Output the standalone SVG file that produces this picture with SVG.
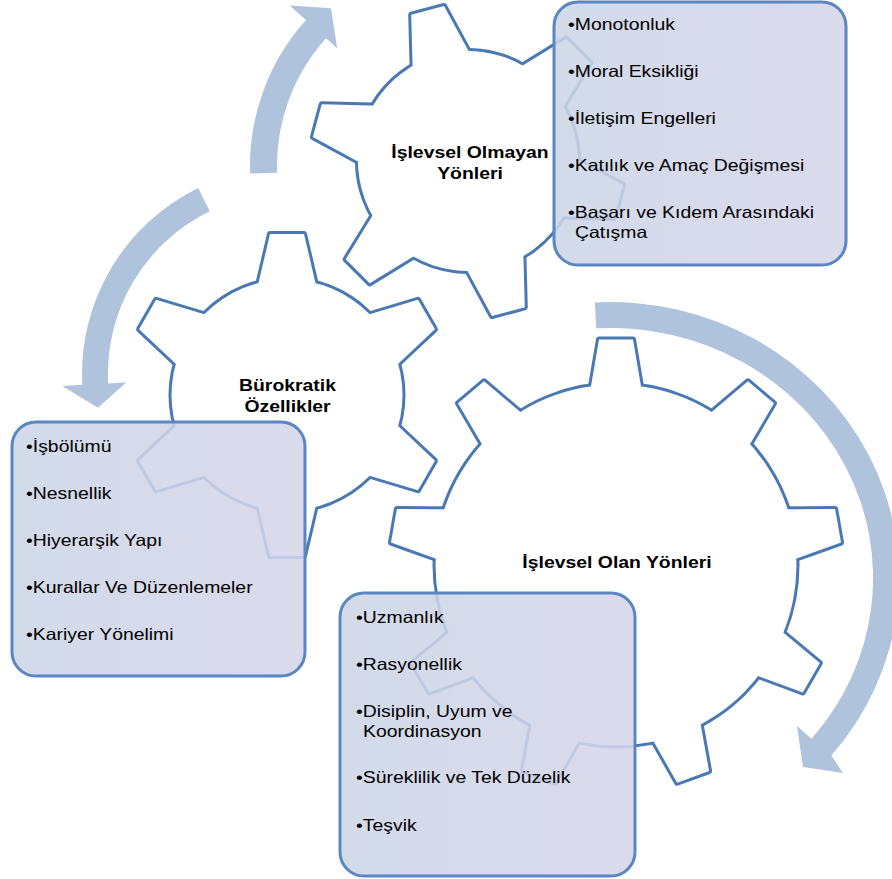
<svg xmlns="http://www.w3.org/2000/svg" width="892" height="879" viewBox="0 0 892 879">
<style>
.gs{fill:#fff;stroke:#4a78b3;stroke-width:6;stroke-linejoin:round}
.gf{fill:#fff;stroke:none}
.lbl{font-family:"Liberation Sans",Arial,sans-serif;font-size:16.3px;font-weight:bold;fill:#000;text-anchor:middle}
.bt{font-family:"Liberation Sans",Arial,sans-serif;font-size:16.3px;fill:#000}
.box{fill:url(#bf);fill-opacity:0.87;stroke:#5a86c2;stroke-width:3}
.arr{fill:#b0c3dd;stroke:none}
</style>
<defs>
<linearGradient id="bf" x1="0" y1="0" x2="1" y2="0">
<stop offset="0" stop-color="#ccd5e6"/>
<stop offset="1" stop-color="#d5d5e9"/>
</linearGradient>
<g id="gear1">
<circle r="110"/>
<polygon id="t1" points="-32.8,-90 -17,-156 17,-156 32.8,-90"/>
<use href="#t1" transform="rotate(60)"/>
<use href="#t1" transform="rotate(120)"/>
<use href="#t1" transform="rotate(180)"/>
<use href="#t1" transform="rotate(240)"/>
<use href="#t1" transform="rotate(300)"/>
</g>
<g id="gear2">
<circle r="115.5"/>
<polygon id="t2" points="-32.5,-95 -17,-161 17,-161 32.5,-95"/>
<use href="#t2" transform="rotate(60)"/>
<use href="#t2" transform="rotate(120)"/>
<use href="#t2" transform="rotate(180)"/>
<use href="#t2" transform="rotate(240)"/>
<use href="#t2" transform="rotate(300)"/>
</g>
<g id="gear3">
<circle r="180.5"/>
<polygon id="t3" points="-28.2,-160 -17,-225.5 17,-225.5 28.2,-160"/>
<use href="#t3" transform="rotate(40)"/>
<use href="#t3" transform="rotate(80)"/>
<use href="#t3" transform="rotate(120)"/>
<use href="#t3" transform="rotate(160)"/>
<use href="#t3" transform="rotate(200)"/>
<use href="#t3" transform="rotate(240)"/>
<use href="#t3" transform="rotate(280)"/>
<use href="#t3" transform="rotate(320)"/>
</g>
</defs>
<rect width="892" height="879" fill="#fff"/>
<g id="connectors">
<path id="arrow-a" class="arr" d="M 250.1 173.6 A 218 218 0 0 1 306 20.1 L 289.6 5.4 L 331 8.3 L 337.2 48.2 L 326.1 38.2 A 191 191 0 0 0 277.1 172.7 Z"/>
<path id="arrow-b" class="arr" d="M 198.3 187.9 A 207 207 0 0 0 82.3 384.8 L 62.3 385.9 L 97.9 407.7 L 126.2 382.5 L 108.2 383.5 A 181 181 0 0 1 209.7 211.3 Z"/>
<path id="arrow-c" class="arr" d="M 594.9 302.4 A 289 276 0 0 1 831.4 755.4 L 843 773 L 803 767 L 797 726 L 811.5 738.7 A 263 250 0 0 0 596.2 328.3 Z"/>
</g>
<g id="node-islevsel-olmayan">
<g transform="translate(468,161) rotate(-15)">
<use href="#gear1" class="gs"/>
<use href="#gear1" class="gf"/>
</g>
<text class="lbl" transform="matrix(1.19 0 0 1 470 158)">İşlevsel Olmayan</text>
<text class="lbl" transform="matrix(1.19 0 0 1 470 179)">Yönleri</text>
<rect class="box" x="554" y="2" width="292" height="263" rx="24"/>
<text class="bt" transform="matrix(1.19 0 0 1 568 30)">•Monotonluk</text>
<text class="bt" transform="matrix(1.19 0 0 1 568 77)">•Moral Eksikliği</text>
<text class="bt" transform="matrix(1.19 0 0 1 568 124)">•İletişim Engelleri</text>
<text class="bt" transform="matrix(1.19 0 0 1 568 171)">•Katılık ve Amaç Değişmesi</text>
<text class="bt" transform="matrix(1.19 0 0 1 568 218)">•Başarı ve Kıdem Arasındaki</text>
<text class="bt" transform="matrix(1.19 0 0 1 575 238)">Çatışma</text>
</g>
<g id="node-burokratik">
<g transform="translate(287,395)">
<use href="#gear2" class="gs"/>
<use href="#gear2" class="gf"/>
</g>
<text class="lbl" transform="matrix(1.19 0 0 1 287.5 391)">Bürokratik</text>
<text class="lbl" transform="matrix(1.19 0 0 1 287.5 412)">Özellikler</text>
<rect class="box" x="12" y="422" width="293" height="254" rx="24"/>
<text class="bt" transform="matrix(1.19 0 0 1 26 452)">•İşbölümü</text>
<text class="bt" transform="matrix(1.19 0 0 1 26 499)">•Nesnellik</text>
<text class="bt" transform="matrix(1.19 0 0 1 26 546)">•Hiyerarşik Yapı</text>
<text class="bt" transform="matrix(1.19 0 0 1 26 593)">•Kurallar Ve Düzenlemeler</text>
<text class="bt" transform="matrix(1.19 0 0 1 26 640)">•Kariyer Yönelimi</text>
</g>
<g id="node-islevsel-olan">
<g transform="translate(616,565)">
<use href="#gear3" class="gs"/>
<use href="#gear3" class="gf"/>
</g>
<text class="lbl" transform="matrix(1.19 0 0 1 617 568)">İşlevsel Olan Yönleri</text>
<rect class="box" x="340" y="593" width="295" height="283" rx="24"/>
<text class="bt" transform="matrix(1.19 0 0 1 356 623)">•Uzmanlık</text>
<text class="bt" transform="matrix(1.19 0 0 1 356 670)">•Rasyonellik</text>
<text class="bt" transform="matrix(1.19 0 0 1 356 717)">•Disiplin, Uyum ve</text>
<text class="bt" transform="matrix(1.19 0 0 1 363 737)">Koordinasyon</text>
<text class="bt" transform="matrix(1.19 0 0 1 356 783)">•Süreklilik ve Tek Düzelik</text>
<text class="bt" transform="matrix(1.19 0 0 1 356 831)">•Teşvik</text>
</g>
</svg>
